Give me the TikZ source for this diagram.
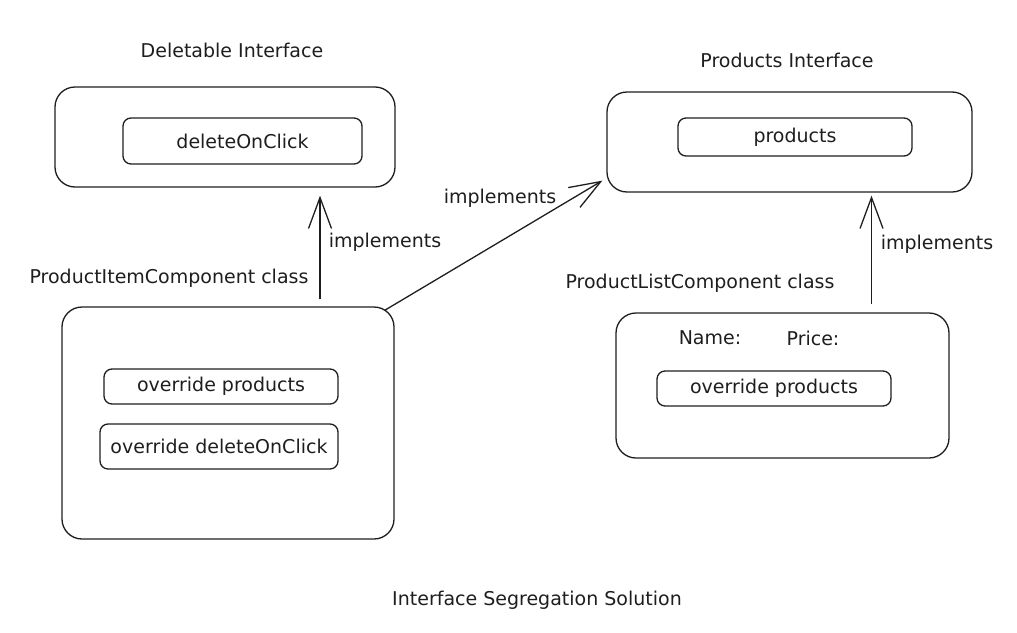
\documentclass[tikz,border=0pt]{standalone}
\usepackage{fontspec}
\setmainfont{DejaVu Sans}
\usetikzlibrary{arrows.meta}
\definecolor{ink}{HTML}{1E1E1E}
\tikzset{
  outerbox/.style={draw=ink, line width=1.3pt, rounded corners=20pt, inner sep=0pt},
  innerbox/.style={draw=ink, line width=1.3pt, rounded corners=8pt, inner sep=0pt,
    font=\fontsize{19}{22}\selectfont, text=ink},
  lbl/.style={font=\fontsize{19}{22}\selectfont, text=ink, inner sep=0pt},
  arr/.style={draw=ink, line width=1.3pt, -{Straight Barb[length=31pt,width=23pt,line width=1.3pt]}}
}
\begin{document}
\begin{tikzpicture}[x=1pt,y=-1pt]
\useasboundingbox (0,0) rectangle (1017,632);
% titles
\node[lbl] (tdel) at (232,50) {Deletable Interface};
\node[lbl] (tprod) at (787,60) {Products Interface};
\node[lbl] (tbot) at (537,600) {Interface Segregation Solution};
% outer boxes
\node[outerbox, minimum width=340pt, minimum height=100pt] (del) at (225,137) {};
\node[outerbox, minimum width=365pt, minimum height=100pt] (prod) at (789.5,142) {};
\node[outerbox, minimum width=332pt, minimum height=232pt] (item) at (228,423) {};
\node[outerbox, minimum width=333pt, minimum height=145pt] (list) at (782.5,385.5) {};
% inner boxes
\node[innerbox, minimum width=239pt, minimum height=46pt] (delm) at (242.5,141) {deleteOnClick};
\node[innerbox, minimum width=234pt, minimum height=38pt] (prodm) at (795,137) {products};
\node[innerbox, minimum width=234pt, minimum height=35pt] (ip) at (221,386.5) {override products};
\node[innerbox, minimum width=238pt, minimum height=45pt] (id) at (219,446.5) {override deleteOnClick};
\node[innerbox, minimum width=234pt, minimum height=35pt] (lp) at (774,388.5) {override products};
\node[lbl] (nm) at (710,338) {Name:};
\node[lbl] (pr) at (813,338) {Price:};
% class labels
\node[lbl] (citem) at (169,278) {ProductItemComponent class};
\node[lbl] (clist) at (700,283) {ProductListComponent class};
% arrows
\draw[arr] ([xshift=92pt,yshift=7pt]item.north) -- ([xshift=95pt,yshift=-8pt]del.south);
\draw[arr] ([xshift=-10pt,yshift=-4pt]item.north east) -- ([xshift=-4pt,yshift=12pt]prod.south west);
\draw[arr] ([xshift=89pt,yshift=8pt]list.north) -- ([xshift=82pt,yshift=-3pt]prod.south);
% arrow labels
\node[lbl] (i1) at (385,242) {implements};
\node[lbl] (i2) at (500,198) {implements};
\node[lbl] (i3) at (937,244) {implements};
\end{tikzpicture}
\end{document}
